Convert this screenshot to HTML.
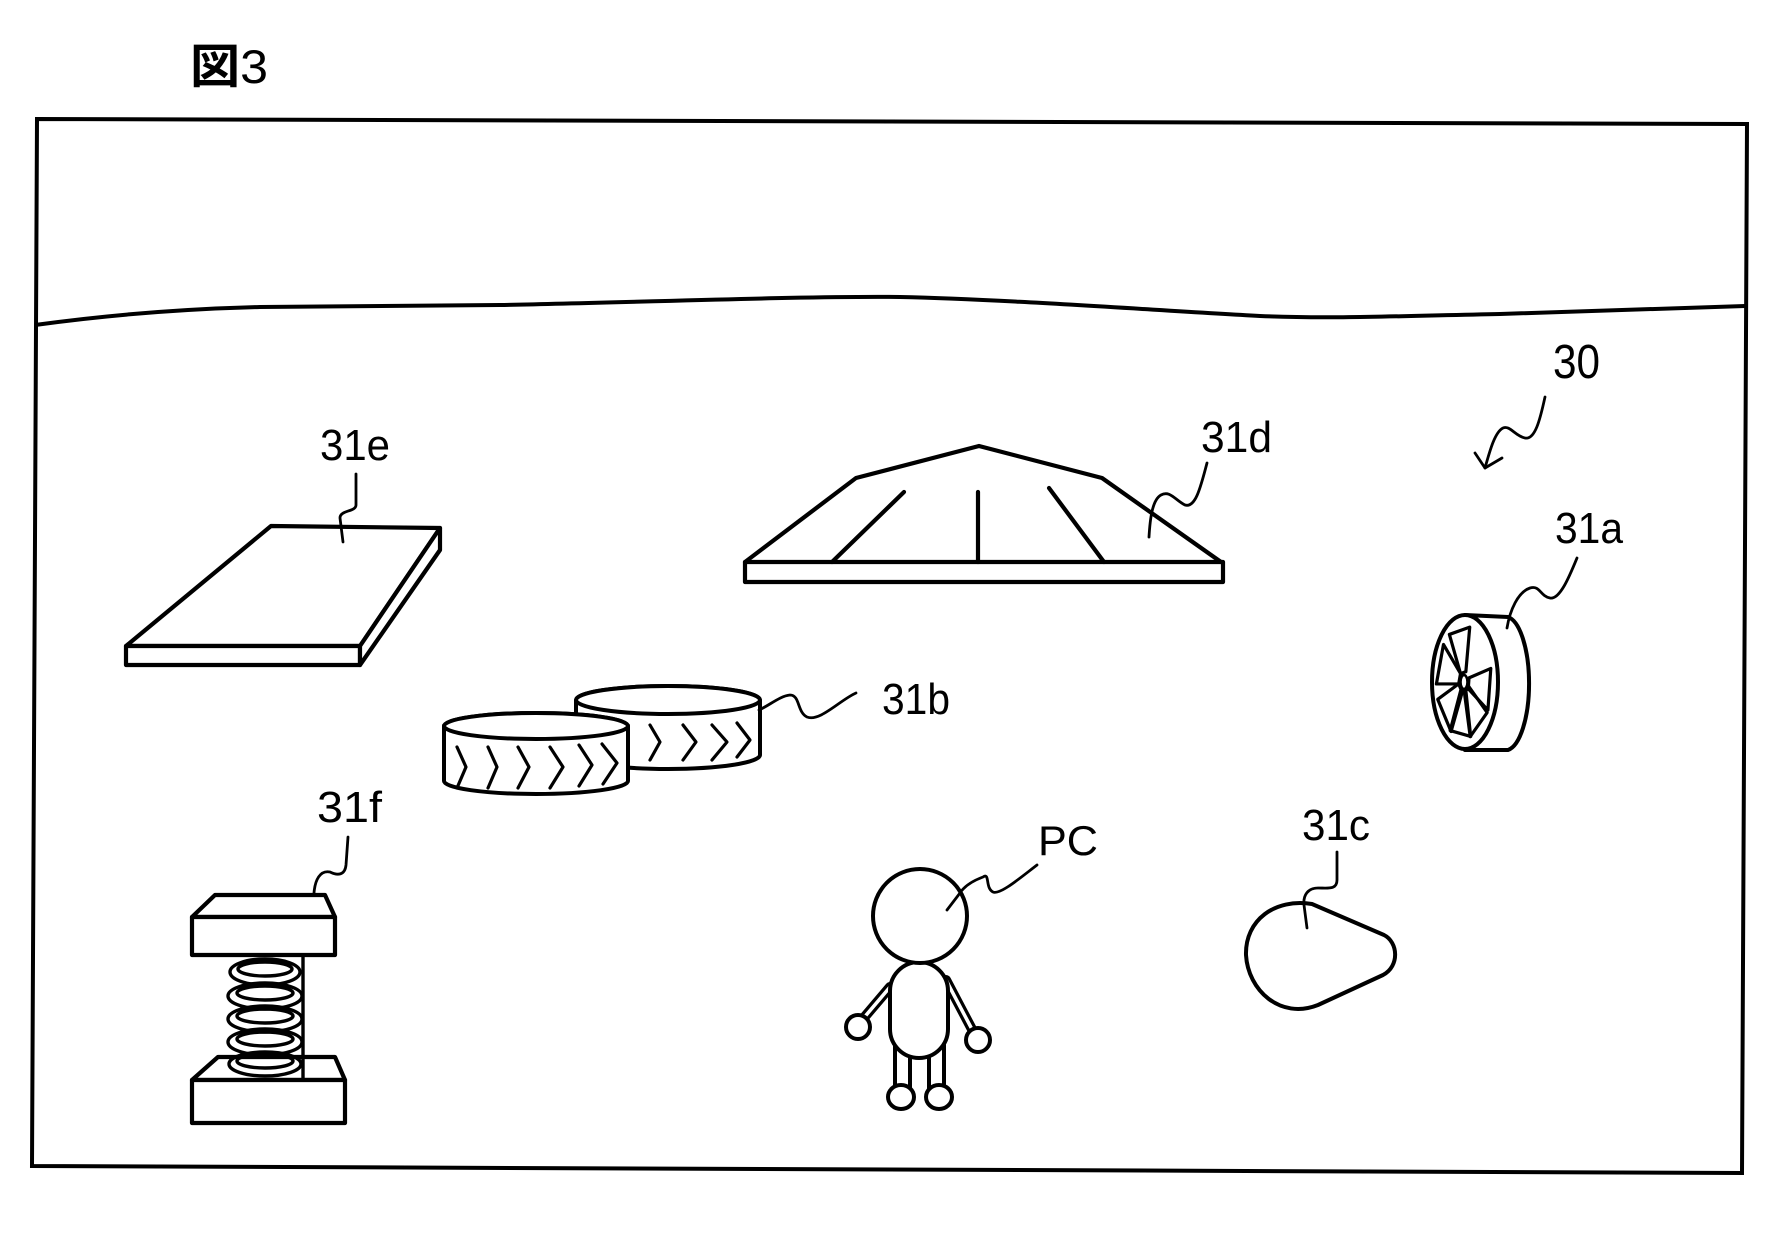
<!DOCTYPE html>
<html>
<head>
<meta charset="utf-8">
<style>
  html,body{margin:0;padding:0;background:#fff;}
  svg{display:block;}
  text{font-family:"Liberation Sans","Noto Sans CJK JP",sans-serif;fill:#000;}
</style>
</head>
<body>
<svg width="1780" height="1239" viewBox="0 0 1780 1239" xmlns="http://www.w3.org/2000/svg">
  <rect x="0" y="0" width="1780" height="1239" fill="#fff"/>

  <!-- Figure title -->
  <text x="190" y="83" font-size="47" textLength="78" lengthAdjust="spacingAndGlyphs"><tspan font-family="'Noto Sans CJK JP',sans-serif" font-weight="bold">図</tspan><tspan>3</tspan></text>

  <!-- Frame -->
  <polygon points="37,119 1747,124 1742,1173 32,1166" fill="none" stroke="#000" stroke-width="4"/>

  <!-- Horizon -->
  <path d="M35,325 C100,316 180,309 260,307 L500,305 C650,302 800,296 900,297 C1000,299 1150,310 1260,316 C1330,319 1400,316 1500,314 L1745,306" fill="none" stroke="#000" stroke-width="4"/>

  <g fill="none" stroke="#000" stroke-linejoin="round" stroke-linecap="round">

    <!-- 30 arrow leader -->
    <path d="M1545,397 C1540,420 1535,440 1525,438 C1515,436 1510,425 1503,428 C1495,432 1490,450 1485,468" stroke-width="2.8"/>
    <path d="M1475,453 L1485,468 L1502,458" stroke-width="2.8"/>

    <!-- 31e slab -->
    <polygon points="271,526 440,528 360,646 126,646" fill="#fff" stroke-width="4.2"/>
    <rect x="126" y="646" width="234" height="19" fill="#fff" stroke-width="4.2"/>
    <polygon points="360,646 440,528 440,550 360,665" fill="#fff" stroke-width="4.2"/>
    <path d="M356,474 L356,505 C356,512 340,510 340,518 L343,542" stroke-width="2.8"/>

    <!-- 31d dome -->
    <rect x="745" y="562" width="478" height="20" fill="#fff" stroke-width="4.2"/>
    <polyline points="745,562 856,478 979,446 1102,478 1221,562" stroke-width="4.2"/>
    <line x1="832" y1="562" x2="904" y2="492" stroke-width="4.2"/>
    <line x1="978" y1="562" x2="978" y2="492" stroke-width="4.2"/>
    <line x1="1049" y1="488" x2="1104" y2="562" stroke-width="4.2"/>
    <path d="M1207,463 C1200,490 1195,508 1185,505 C1175,500 1170,490 1161,495 C1152,500 1150,520 1149,537" stroke-width="2.8"/>

    <!-- 31a wheel -->
    <path d="M1465,615 L1508,617 A24,67 0 0 1 1508,750 L1465,750 Z" fill="#fff" stroke-width="4"/>
    <ellipse cx="1465" cy="682" rx="33" ry="67" fill="#fff" stroke-width="4"/>
    <g transform="translate(1464,682) scale(0.4925,1)">
      <polygon transform="rotate(-100)" points="9.5,-5.5 52,-21 52,21 9.5,5.5" stroke-width="3.2" vector-effect="non-scaling-stroke"/>
      <polygon transform="rotate(-160)" points="9.5,-5.5 52,-21 52,21 9.5,5.5" stroke-width="3.2" vector-effect="non-scaling-stroke"/>
      <polygon transform="rotate(140)" points="9.5,-5.5 52,-21 52,21 9.5,5.5" stroke-width="3.2" vector-effect="non-scaling-stroke"/>
      <polygon transform="rotate(98)" points="9.5,-5.5 52,-21 52,21 9.5,5.5" stroke-width="3.2" vector-effect="non-scaling-stroke"/>
      <polygon transform="rotate(55)" points="9.5,-5.5 52,-21 52,21 9.5,5.5" stroke-width="3.2" vector-effect="non-scaling-stroke"/>
      <polygon transform="rotate(8)" points="9.5,-5.5 52,-21 52,21 9.5,5.5" stroke-width="3.2" vector-effect="non-scaling-stroke"/>
      <ellipse cx="0" cy="0" rx="7" ry="7" stroke-width="2.5" vector-effect="non-scaling-stroke"/>
    </g>
    <path d="M1577,558 C1570,575 1560,600 1550,598 C1540,596 1540,585 1530,588 C1518,592 1510,610 1507,628" stroke-width="2.8"/>

    <!-- 31b cylinders (back) -->
    <path d="M576,700 L576,755 A92,14 0 0 0 760,755 L760,700 A92,14 0 0 0 576,700 Z" fill="#fff" stroke-width="4"/>
    <ellipse cx="668" cy="700" rx="92" ry="14" fill="#fff" stroke-width="4"/>
    <path d="M650,725 L660,742 L650,760" stroke-width="3.2"/>
    <path d="M683,725 L696,742 L683,760" stroke-width="3.2"/>
    <path d="M712,725 L727,742 L712,760" stroke-width="3.2"/>
    <path d="M737,723 L750,740 L737,757" stroke-width="3.2"/>
    <!-- front -->
    <path d="M444,726 L444,781 A92,13 0 0 0 628,781 L628,726 A92,13 0 0 0 444,726 Z" fill="#fff" stroke-width="4"/>
    <ellipse cx="536" cy="726" rx="92" ry="13" fill="#fff" stroke-width="4"/>
    <path d="M457,747 L466,767 L457,788" stroke-width="3.2"/>
    <path d="M488,747 L497,767 L488,788" stroke-width="3.2"/>
    <path d="M518,747 L529,767 L518,788" stroke-width="3.2"/>
    <path d="M550,747 L563,767 L550,788" stroke-width="3.2"/>
    <path d="M579,745 L592,765 L579,786" stroke-width="3.2"/>
    <path d="M602,744 L617,763 L603,784" stroke-width="3.2"/>
    <path d="M856,693 C840,700 820,722 807,717 C797,712 800,695 790,695 C780,696 770,705 759,710" stroke-width="2.8"/>

    <!-- 31f spring block -->
    <polygon points="218,1057 335,1057 345,1080 192,1080" fill="#fff" stroke-width="4.2"/>
    <rect x="192" y="1080" width="153" height="43" fill="#fff" stroke-width="4.2"/>
    <g stroke-width="3.4">
      <ellipse cx="265" cy="1064" rx="36" ry="12"/>
      <ellipse cx="265" cy="1061" rx="28" ry="7"/>
      <ellipse cx="265" cy="1042" rx="37" ry="13"/>
      <ellipse cx="265" cy="1039" rx="28" ry="7"/>
      <ellipse cx="265" cy="1019" rx="37" ry="13"/>
      <ellipse cx="265" cy="1016" rx="28" ry="7"/>
      <ellipse cx="265" cy="996" rx="37" ry="13"/>
      <ellipse cx="265" cy="993" rx="28" ry="7"/>
      <ellipse cx="265" cy="972" rx="35" ry="13"/>
      <ellipse cx="265" cy="969" rx="27" ry="7"/>
      <line x1="303" y1="955" x2="303" y2="1078"/>
    </g>
    <polygon points="215,895 325,895 335,917 192,917" fill="#fff" stroke-width="4.2"/>
    <rect x="192" y="917" width="143" height="38" fill="#fff" stroke-width="4.2"/>
    <path d="M348,837 L346,865 C345,875 338,876 330,872 C320,870 315,880 314,893" stroke-width="2.8"/>

    <!-- PC character -->
    <line x1="890" y1="987" x2="862" y2="1020" stroke-width="10"/>
    <line x1="890" y1="987" x2="862" y2="1020" stroke="#fff" stroke-width="3.5"/>
    <line x1="946" y1="980" x2="975" y2="1035" stroke-width="10"/>
    <line x1="946" y1="980" x2="975" y2="1035" stroke="#fff" stroke-width="3.5"/>
    <circle cx="858" cy="1027" r="12" fill="#fff" stroke-width="4"/>
    <circle cx="978" cy="1040" r="12" fill="#fff" stroke-width="4"/>
    <rect x="895" y="1045" width="15" height="44" fill="#fff" stroke-width="4"/>
    <rect x="929" y="1045" width="15" height="44" fill="#fff" stroke-width="4"/>
    <rect x="890" y="962" width="58" height="96" rx="29" ry="29" fill="#fff" stroke-width="4"/>
    <circle cx="920" cy="916" r="47" fill="#fff" stroke-width="4"/>
    <ellipse cx="901" cy="1097" rx="13" ry="12" fill="#fff" stroke-width="4"/>
    <ellipse cx="939" cy="1097" rx="13" ry="12" fill="#fff" stroke-width="4"/>
    <path d="M1037,865 C1020,878 1000,895 993,892 C985,888 990,872 983,877 C975,880 965,885 960,893 L947,910" stroke-width="2.8"/>

    <!-- 31c blob -->
    <path d="M1312,904 L1384,935 C1398,942 1400,966 1383,975 L1318,1005 C1280,1020 1248,990 1246,955 C1245,920 1275,898 1312,904 Z" fill="#fff" stroke-width="4"/>
    <path d="M1337,852 L1337,880 C1337,890 1328,888 1318,888 C1308,888 1303,895 1304,905 L1307,928" stroke-width="2.8"/>
  </g>

  <!-- Labels -->
  <text x="1553" y="378" font-size="48" textLength="47" lengthAdjust="spacingAndGlyphs">30</text>
  <text x="320" y="460" font-size="44" textLength="70" lengthAdjust="spacingAndGlyphs">31e</text>
  <text x="1201" y="452" font-size="44" textLength="71" lengthAdjust="spacingAndGlyphs">31d</text>
  <text x="1555" y="543" font-size="44" textLength="68" lengthAdjust="spacingAndGlyphs">31a</text>
  <text x="882" y="714" font-size="44" textLength="68" lengthAdjust="spacingAndGlyphs">31b</text>
  <text x="317" y="822" font-size="44" textLength="65" lengthAdjust="spacingAndGlyphs">31f</text>
  <text x="1038" y="855" font-size="42" textLength="60" lengthAdjust="spacingAndGlyphs">PC</text>
  <text x="1302" y="840" font-size="44" textLength="68" lengthAdjust="spacingAndGlyphs">31c</text>
</svg>
</body>
</html>
